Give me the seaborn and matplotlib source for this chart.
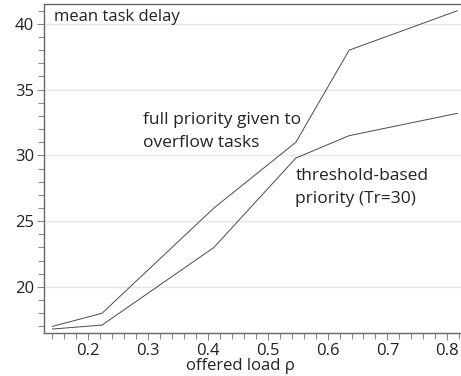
import numpy as np
import pandas as pd
import matplotlib
matplotlib.use('Agg')
import matplotlib.pyplot as plt
import seaborn as sns
from matplotlib.ticker import MultipleLocator

# offered load values and mean task delay for both schemes
load = [0.14, 0.223, 0.41, 0.547, 0.636, 0.817]
full_priority = [17.0, 18.0, 26.0, 31.0, 38.0, 41.0]
threshold = [16.8, 17.1, 23.0, 29.8, 31.5, 33.2]

df = pd.DataFrame({
    'load': load * 2,
    'delay': full_priority + threshold,
    'scheme': ['full'] * len(load) + ['threshold'] * len(load),
})

sns.set_style('ticks')
plt.rcParams['font.family'] = ['Open Sans', 'DejaVu Sans']

fig = plt.figure(figsize=(4.61, 3.76), dpi=100)
ax = fig.add_axes([0.0954, 0.1144, 0.9046, 0.8746])

sns.lineplot(data=df, x='load', y='delay', hue='scheme',
             palette=['#4a4a4a', '#4a4a4a'], linewidth=0.7,
             legend=False, ax=ax)

ax.set_xlim(0.126, 0.823)
ax.set_ylim(16.5, 41.5)
ax.set_xticks([0.2, 0.3, 0.4, 0.5, 0.6, 0.7, 0.8])
ax.set_yticks([20, 25, 30, 35, 40])
ax.xaxis.set_minor_locator(MultipleLocator(0.02))
ax.yaxis.set_minor_locator(MultipleLocator(1))
ax.yaxis.grid(True, color='#e6e6e6', linewidth=1.0)
ax.set_axisbelow(True)

for s in ['left', 'bottom', 'top']:
    ax.spines[s].set_color('#666666')
    ax.spines[s].set_linewidth(1.0)
ax.spines['right'].set_visible(False)

ax.tick_params(axis='both', which='both', direction='out', color='#888888',
               labelsize=12, labelcolor='#222222', width=0.8, pad=2)
ax.tick_params(axis='both', which='major', length=5)
ax.tick_params(axis='both', which='minor', length=4)

ax.set_xlabel('offered load ρ', fontsize=12, color='#222222')
ax.xaxis.set_label_coords(0.47, -0.075)
ax.set_ylabel('')

ax.text(0.143, 40.2, 'mean task delay',
        fontsize=12, color='#222222', va='baseline', ha='left')
# baseline of the last line is used for multi-line text
ax.text(0.291, 30.65, 'full priority given to\noverflow tasks',
        fontsize=12.5, color='#222222', va='baseline', ha='left', linespacing=1.58)
ax.text(0.546, 26.35, 'threshold-based\npriority (Tr=30)',
        fontsize=12.5, color='#222222', va='baseline', ha='left', linespacing=1.58)

fig.savefig('out.png', dpi=100)
